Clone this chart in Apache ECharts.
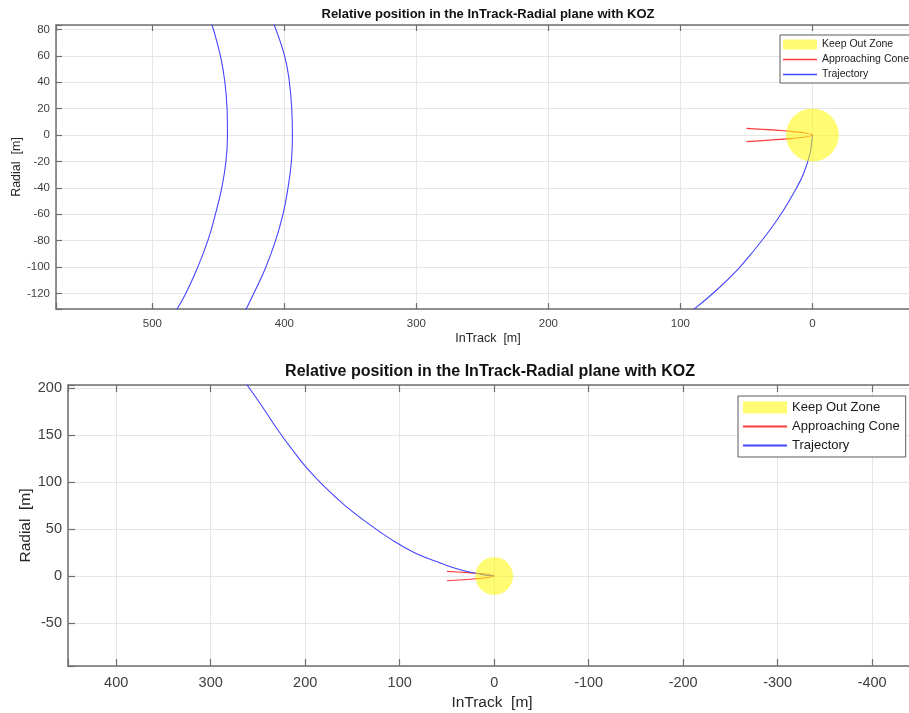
<!DOCTYPE html>
<html>
<head>
<meta charset="utf-8">
<script src="https://cdn.jsdelivr.net/npm/echarts@6/dist/echarts.min.js"></script>
<style>
  html, body { margin: 0; padding: 0; background: #ffffff; }
  #chart { width: 909px; height: 713px; }
</style>
</head>
<body>
<div id="chart"></div>
<script>
// Plot titles and legend entries
const titleText = 'Relative position in the InTrack-Radial plane with KOZ';
const legendNames = ['Keep Out Zone', 'Approaching Cone', 'Trajectory'];
const xAxisName = 'InTrack  [m]';
const yAxisName = 'Radial  [m]';

// Keep out zone: centre and radius in metres
const kozCenter = [0, 0];
const kozRadius = 20;

// Approaching cone edges: [inTrack, radial]
const coneLines = [[50, 5], [0, 0], [50, -5]];

// Upper plot: trajectory passes [inTrack, radial]
const trajUpperOuter = [[455, 84], [448.4, 59.8], [445.2, 40.9], [443.4, 19.7], [443.1, 0], [444.3, -20.5],
  [447.6, -40.9], [452.2, -59.8], [457.8, -79.5], [465.9, -100.8], [474.9, -120.5], [482, -133]];
const trajUpperInner = [[408, 84], [399.8, 59.8], [396.3, 40.9], [394.4, 19.7], [393.9, 0], [394.7, -20.5],
  [397.4, -40.9], [401.0, -59.8], [406.5, -79.5], [414.3, -100.8], [423.4, -120.5], [429.5, -133]];
const trajUpperFinal = [[0, 0], [0.4, -4], [1.8, -13.9], [6.6, -29], [12.9, -41.7], [21.8, -56.8],
  [32.2, -72], [44.0, -87.1], [57.0, -102.3], [72.5, -117.4], [90.5, -132.6]];

// Lower plot: final approach [inTrack, radial]
const trajLower = [[262, 204], [246.6, 181.9], [228.9, 155.3], [214.8, 135.9], [198.9, 115.6], [179.6, 95],
  [158.4, 75.5], [133.7, 56.1], [109, 39], [84.3, 24.8], [56.1, 13.5], [34.9, 6.4], [13.8, 1.8], [0, 0]];

// Axis ranges [min, max] and tick steps
const upperX = [-81.5, 573];
const upperY = [-131.8, 83.3];
const lowerX = [-446.4, 451];
const lowerY = [-95.7, 203.2];
const upperXStep = 100, upperYStep = 20, lowerXStep = 100, lowerYStep = 50;

const FONT = '"Liberation Sans", Arial, Helvetica, sans-serif';
const axisColor = '#6e6e6e';
const gridColor = '#e6e6e6';
const kozFill = 'rgba(255, 250, 0, 0.55)';
const coneColor = '#ff3b3b';
const trajColor = '#4545ff';
const lineIcon = 'path://M0,0H40V1.6H0Z';

function stepFormatter(step) {
  return function (v) {
    const r = Math.round(v / step) * step;
    return Math.abs(v - r) < 1e-6 ? String(r) : '';
  };
}

function bottomXAxis(grid, range, step, fs, nameFs, tickLen, labelMargin, nameGap) {
  return {
    type: 'value', gridIndex: grid, position: 'bottom', inverse: true,
    min: range[0], max: range[1], splitNumber: Math.round((range[1] - range[0]) / step),
    name: xAxisName, nameLocation: 'middle', nameGap: nameGap, nameMoveOverlap: false,
    nameTextStyle: { fontFamily: FONT, fontSize: nameFs, color: '#262626' },
    axisLine: { show: true, onZero: false, lineStyle: { color: axisColor, width: 1.5 } },
    axisTick: { show: true, inside: true, length: tickLen, lineStyle: { color: axisColor, width: 1.2 } },
    axisLabel: { show: true, margin: labelMargin, fontFamily: FONT, fontSize: fs, color: '#404040',
      formatter: stepFormatter(step) },
    splitLine: { show: true, lineStyle: { color: gridColor, width: 1 } }
  };
}

function topXAxis(grid, range, step, tickLen) {
  return {
    type: 'value', gridIndex: grid, position: 'top', inverse: true,
    min: range[0], max: range[1], splitNumber: Math.round((range[1] - range[0]) / step),
    axisLine: { show: true, onZero: false, lineStyle: { color: axisColor, width: 1.5 } },
    axisTick: { show: true, inside: true, length: tickLen, lineStyle: { color: axisColor, width: 1.2 } },
    axisLabel: { show: false },
    splitLine: { show: false }
  };
}

function leftYAxis(grid, range, step, fs, nameFs, tickLen, labelMargin, nameGap) {
  return {
    type: 'value', gridIndex: grid, position: 'left',
    min: range[0], max: range[1], splitNumber: Math.round((range[1] - range[0]) / step),
    name: yAxisName, nameLocation: 'middle', nameGap: nameGap, nameMoveOverlap: false,
    nameTextStyle: { fontFamily: FONT, fontSize: nameFs, color: '#262626' },
    axisLine: { show: true, onZero: false, lineStyle: { color: axisColor, width: 1.5 } },
    axisTick: { show: true, inside: true, length: tickLen, lineStyle: { color: axisColor, width: 1.2 } },
    axisLabel: { show: true, margin: labelMargin, fontFamily: FONT, fontSize: fs, color: '#404040',
      formatter: stepFormatter(step) },
    splitLine: { show: true, lineStyle: { color: gridColor, width: 1 } }
  };
}

function kozSeries(axisX, axisY) {
  return {
    name: legendNames[0], type: 'custom', xAxisIndex: axisX, yAxisIndex: axisY, z: 5,
    itemStyle: { color: kozFill },
    data: [[kozCenter[0], kozCenter[1], kozRadius]],
    renderItem: function (params, api) {
      const c = api.coord([api.value(0), api.value(1)]);
      const s = api.size([api.value(2) * 2, api.value(2) * 2], [api.value(0), api.value(1)]);
      return {
        type: 'circle',
        shape: { cx: c[0], cy: c[1], r: (s[0] + s[1]) / 4 },
        style: { fill: kozFill }
      };
    }
  };
}

function lineSeries(name, data, color, axisX, axisY) {
  return {
    name: name, type: 'line', xAxisIndex: axisX, yAxisIndex: axisY,
    data: data, symbol: 'none', smooth: 0.45, clip: true, z: 3,
    lineStyle: { color: color, width: 1.1 },
    itemStyle: { color: color },
    emphasis: { disabled: true }
  };
}

function legendBlock(left, top, fs, iw, ih, gap, pad) {
  return {
    orient: 'vertical', left: left, top: top,
    itemWidth: iw, itemHeight: ih, itemGap: gap, padding: pad,
    backgroundColor: '#ffffff', borderColor: '#5a5a5a', borderWidth: 1, borderRadius: 0,
    selectedMode: false,
    textStyle: { fontFamily: FONT, fontSize: fs, color: '#1a1a1a' },
    data: [
      { name: legendNames[0], icon: 'rect' },
      { name: legendNames[1], icon: lineIcon, itemStyle: { color: coneColor } },
      { name: legendNames[2], icon: lineIcon, itemStyle: { color: trajColor } }
    ]
  };
}

const chart = echarts.init(document.getElementById('chart'), null, { renderer: 'canvas' });

// Grid pixel extents follow the equal-aspect scaling of each plot
const upperGrid = { left: 56, top: 25, width: 864, height: 284, containLabel: false, outerBoundsMode: 'none' };
const lowerGrid = { left: 68, top: 385, width: 848, height: 281, containLabel: false, outerBoundsMode: 'none' };

chart.setOption({
  backgroundColor: '#ffffff',
  animation: false,
  grid: [upperGrid, lowerGrid],
  xAxis: [
    bottomXAxis(0, upperX, upperXStep, 11.5, 12.5, 6, 9, 23),
    topXAxis(0, upperX, upperXStep, 6),
    bottomXAxis(1, lowerX, lowerXStep, 14.5, 15.5, 7, 9, 29),
    topXAxis(1, lowerX, lowerXStep, 7)
  ],
  yAxis: [
    leftYAxis(0, upperY, upperYStep, 11.5, 12.5, 6, 6, 32.5),
    leftYAxis(1, lowerY, lowerYStep, 14.5, 15.5, 7, 6, 34)
  ],
  legend: [
    legendBlock(780, 35, 10.5, 34, 10, 4, [4, 4, 3, 3]),
    legendBlock(738, 396, 13, 44, 12, 6, [5, 6, 5, 5])
  ],
  graphic: [
    { type: 'text', x: 488, y: 14, z: 10,
      style: { text: titleText, fontFamily: FONT, fontSize: 13, fontWeight: 'bold', fill: '#111',
        textAlign: 'center', textVerticalAlign: 'middle' } },
    { type: 'text', x: 490, y: 372, z: 10,
      style: { text: titleText, fontFamily: FONT, fontSize: 16, fontWeight: 'bold', fill: '#111',
        textAlign: 'center', textVerticalAlign: 'middle' } }
  ],
  series: [
    kozSeries(0, 0),
    lineSeries(legendNames[1], coneLines, coneColor, 0, 0),
    lineSeries(legendNames[2], trajUpperOuter, trajColor, 0, 0),
    lineSeries(legendNames[2], trajUpperInner, trajColor, 0, 0),
    lineSeries(legendNames[2], trajUpperFinal, trajColor, 0, 0),
    kozSeries(2, 1),
    lineSeries(legendNames[1], coneLines, coneColor, 2, 1),
    lineSeries(legendNames[2], trajLower, trajColor, 2, 1)
  ]
});
</script>
</body>
</html>
